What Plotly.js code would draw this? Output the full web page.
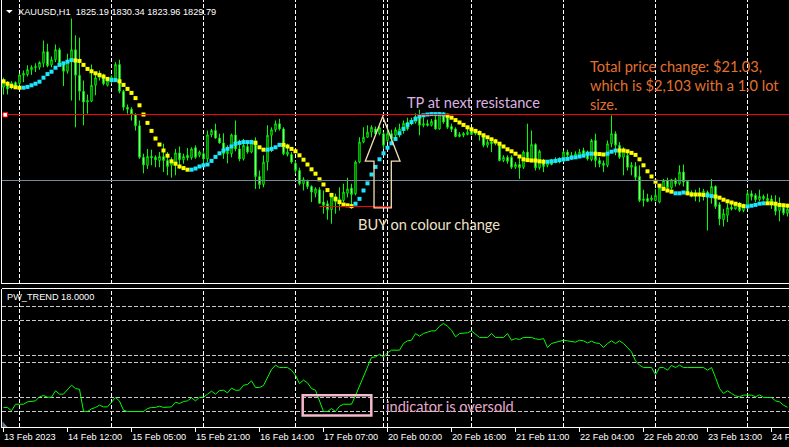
<!DOCTYPE html>
<html><head><meta charset="utf-8">
<script src="https://cdn.plot.ly/plotly-3.0.1.min.js"></script>
<style>html,body{margin:0;padding:0;background:#000;overflow:hidden}#chart{width:789px;height:447px}</style>
</head><body><div id="chart"></div>
<script>
// ---------- DATA (XAUUSD H1) ----------
const openP = [
1854.3,1855.2,1854.3,1855.5,1855.2,1857.3,1857.5,1858.7,1859.2,1859.3,
1860.3,1863.2,1859.9,1861.2,1863.7,1860.2,1858.3,1861.0,1863.7,1857.3,
1853.3,1850.6,1850.8,1854.8,1856.7,1857.1,1854.8,1856.0,1856.4,1860.0,
1853.3,1849.3,1848.8,1847.5,1844.7,1836.8,1834.8,1837.0,1836.8,1836.0,
1837.0,1836.0,1834.8,1835.2,1837.9,1836.2,1837.3,1836.7,1839.2,1837.3,
1837.7,1836.4,1842.4,1843.5,1841.6,1840.4,1837.7,1837.7,1842.4,1838.9,
1836.4,1839.5,1838.1,1841.0,1832.0,1830.0,1835.6,1842.3,1843.7,1845.2,
1843.9,1837.5,1837.5,1835.3,1833.5,1830.2,1830.8,1829.5,1827.8,1828.7,
1825.6,1825.2,1823.7,1827.0,1825.2,1826.0,1827.8,1829.1,1827.7,1835.6,
1840.6,1841.8,1843.1,1843.9,1842.7,1842.7,1841.0,1842.7,1842.3,1843.1,
1843.9,1845.6,1845.2,1845.6,1847.3,1844.8,1845.2,1844.8,1846.2,1843.9,
1847.7,1847.0,1844.5,1843.9,1842.0,1842.3,1842.5,1843.5,1842.7,1842.8,
1842.3,1839.8,1840.6,1840.2,1840.0,1836.0,1836.8,1836.8,1834.3,1835.0,
1834.3,1838.1,1836.0,1840.0,1834.2,1836.0,1834.8,1835.8,1835.6,1835.6,
1835.8,1838.1,1837.3,1836.8,1837.3,1838.5,1838.1,1836.2,1841.0,1836.0,
1835.3,1834.8,1840.2,1842.7,1839.8,1836.8,1837.3,1834.3,1834.5,1832.0,
1826.0,1826.5,1826.2,1826.0,1825.6,1829.2,1831.0,1829.2,1831.2,1830.2,
1833.1,1830.8,1827.7,1827.8,1827.5,1827.3,1828.1,1826.8,1829.5,1825.0,
1821.2,1822.3,1824.3,1823.9,1824.8,1823.5,1824.3,1827.7,1827.3,1826.2,
1827.0,1826.5,1826.4,1825.3,1823.5,1824.3,1822.8];
const highP = [
1856.7,1855.8,1855.8,1855.8,1857.7,1858.5,1859.8,1859.8,1860.3,1860.8,
1866.0,1865.2,1862.0,1865.0,1864.2,1860.6,1862.7,1871.5,1867.3,1866.7,
1856.0,1852.5,1860.0,1857.7,1858.5,1857.7,1856.8,1857.3,1860.6,1861.2,
1853.7,1850.0,1849.3,1847.8,1846.0,1837.7,1838.9,1838.7,1837.3,1838.1,
1840.2,1838.1,1836.8,1838.9,1839.5,1837.7,1839.1,1839.3,1839.8,1838.5,
1838.5,1843.5,1843.9,1845.2,1842.7,1842.8,1839.8,1842.7,1846.0,1841.2,
1841.4,1840.2,1841.2,1841.8,1833.5,1837.3,1844.8,1844.3,1846.0,1846.4,
1844.3,1840.2,1838.1,1836.0,1834.2,1831.8,1831.2,1829.8,1829.3,1829.3,
1828.5,1826.0,1827.3,1827.7,1829.3,1830.2,1831.7,1830.2,1836.0,1841.8,
1844.3,1844.8,1844.8,1844.5,1844.5,1843.1,1843.7,1843.7,1844.3,1845.2,
1846.0,1846.7,1846.7,1847.8,1848.7,1846.8,1846.2,1846.4,1847.7,1848.1,
1848.1,1847.7,1845.2,1844.3,1843.1,1843.1,1844.2,1843.9,1843.9,1843.5,
1842.7,1841.2,1841.4,1841.4,1840.3,1837.3,1837.3,1837.3,1835.6,1836.8,
1838.5,1845.2,1843.5,1840.3,1838.7,1836.4,1836.0,1836.4,1836.8,1836.8,
1838.5,1838.7,1838.1,1838.3,1838.9,1839.2,1838.5,1841.4,1842.7,1836.8,
1836.0,1841.0,1847.3,1843.3,1840.6,1839.3,1838.5,1835.6,1835.6,1834.8,
1828.7,1827.7,1827.3,1828.9,1830.2,1831.4,1831.7,1831.4,1831.7,1834.8,
1835.0,1831.0,1828.5,1828.7,1829.2,1828.9,1828.5,1831.4,1829.8,1825.6,
1823.9,1825.3,1825.3,1825.6,1825.6,1825.2,1828.5,1828.5,1827.8,1828.7,
1827.5,1827.7,1827.3,1827.3,1826.8,1825.3,1825.2];
const lowP = [
1852.5,1852.5,1853.8,1854.3,1854.8,1855.6,1857.0,1857.4,1858.1,1858.7,
1859.3,1859.3,1859.3,1860.6,1859.8,1854.6,1857.7,1851.0,1844.3,1851.0,
1844.8,1847.7,1850.6,1852.3,1856.0,1854.8,1854.5,1855.2,1856.0,1852.8,
1848.5,1847.7,1846.0,1843.5,1836.4,1832.8,1833.9,1834.8,1834.3,1834.3,
1833.1,1832.3,1831.7,1832.3,1833.9,1835.2,1836.0,1836.2,1836.4,1836.8,
1835.2,1835.6,1841.8,1841.4,1840.2,1836.4,1835.3,1836.8,1838.3,1835.8,
1836.0,1837.7,1837.8,1828.9,1828.9,1829.3,1833.5,1838.1,1843.1,1843.5,
1837.3,1837.0,1835.2,1832.7,1829.8,1828.5,1828.9,1825.6,1826.8,1825.2,
1822.7,1821.2,1820.2,1822.7,1823.5,1825.6,1826.8,1823.9,1827.3,1835.3,
1840.3,1841.7,1841.8,1842.3,1842.3,1838.9,1840.6,1840.2,1841.0,1841.8,
1842.7,1843.5,1844.8,1845.2,1842.3,1844.3,1844.5,1844.5,1843.7,1843.7,
1845.2,1843.9,1843.1,1841.8,1841.8,1841.8,1842.3,1842.3,1842.3,1841.0,
1839.3,1839.2,1838.1,1839.8,1835.8,1835.6,1835.2,1833.9,1833.9,1831.4,
1833.9,1836.0,1835.6,1833.5,1833.7,1833.1,1834.3,1834.8,1835.3,1835.3,
1835.6,1836.8,1836.2,1836.7,1837.0,1837.2,1836.0,1835.8,1834.3,1834.3,
1833.1,1834.3,1839.3,1837.3,1836.4,1832.3,1833.5,1832.3,1831.0,1825.6,
1824.5,1825.6,1825.8,1825.8,1825.3,1828.7,1828.7,1828.7,1829.5,1829.8,
1829.5,1827.3,1826.8,1825.8,1825.6,1826.0,1818.5,1825.2,1823.9,1819.8,
1819.5,1820.6,1823.5,1823.7,1823.1,1823.1,1823.9,1826.0,1825.6,1825.8,
1826.0,1825.6,1823.9,1822.3,1820.8,1822.3,1822.0];
const closeP = [
1855.6,1853.9,1855.4,1854.5,1857.4,1857.8,1858.7,1859.3,1859.5,1860.5,
1863.2,1859.7,1861.2,1863.7,1860.2,1858.3,1861.0,1863.7,1857.3,1853.3,
1850.6,1851.0,1854.8,1856.7,1857.3,1855.2,1856.0,1856.8,1860.0,1853.3,
1849.3,1848.8,1847.5,1844.7,1836.8,1834.9,1837.0,1836.7,1836.2,1837.0,
1836.0,1834.5,1835.6,1837.9,1836.2,1837.0,1836.7,1838.9,1836.8,1838.1,
1836.4,1842.4,1843.5,1841.6,1840.4,1837.7,1838.3,1842.4,1838.9,1836.4,
1839.8,1838.1,1841.0,1832.0,1830.0,1835.6,1842.3,1843.7,1845.2,1843.9,
1837.7,1838.1,1835.6,1833.5,1830.2,1831.2,1829.5,1828.1,1828.9,1825.3,
1824.8,1823.7,1827.0,1825.6,1826.4,1828.1,1828.9,1827.5,1835.6,1840.6,
1841.8,1843.1,1844.3,1842.7,1844.2,1839.8,1842.7,1841.4,1843.7,1843.9,
1845.3,1843.9,1846.0,1847.0,1844.8,1845.2,1844.8,1845.8,1843.9,1847.5,
1845.6,1844.3,1843.8,1842.0,1842.5,1842.8,1843.1,1842.5,1843.1,1842.3,
1839.8,1840.6,1840.2,1841.0,1836.0,1836.8,1835.8,1834.3,1835.0,1834.2,
1838.1,1836.4,1840.0,1834.2,1838.3,1834.5,1835.6,1835.0,1836.2,1836.4,
1838.1,1837.3,1836.4,1837.7,1838.1,1837.5,1836.4,1841.0,1836.0,1835.2,
1834.8,1840.2,1842.7,1839.8,1836.8,1838.7,1834.3,1834.8,1831.8,1826.0,
1826.4,1825.8,1826.6,1827.3,1829.2,1831.0,1829.2,1831.2,1830.2,1833.1,
1830.6,1827.7,1828.1,1827.3,1827.8,1828.3,1826.8,1829.5,1824.5,1821.4,
1822.7,1824.2,1823.9,1825.0,1823.5,1824.8,1827.7,1827.0,1826.2,1827.0,
1826.5,1826.0,1825.8,1823.3,1824.8,1822.8,1823.9];
// trend-following moving average (dots) and its direction (1 = rising / cyan, 0 = falling / yellow)
const maValue = [
1855.8,1855.2,1854.6,1854.3,1854.2,1854.2,1854.4,1854.8,1855.2,1855.7,
1856.7,1857.6,1858.2,1859.2,1859.9,1860.3,1860.7,1861.1,1861.0,1860.9,
1859.9,1858.9,1858.3,1857.8,1857.4,1857.0,1856.4,1856.1,1856.1,1855.8,
1854.9,1853.9,1852.9,1851.6,1849.8,1847.5,1845.4,1843.4,1841.5,1840.0,
1838.5,1837.2,1835.8,1835.2,1834.5,1834.1,1833.7,1833.7,1834.0,1834.5,
1834.8,1835.0,1835.9,1836.9,1837.8,1838.5,1838.9,1839.5,1840.2,1840.4,
1840.6,1840.6,1840.6,1840.4,1839.3,1838.7,1838.7,1838.9,1839.3,1839.9,
1839.9,1839.5,1838.9,1838.3,1837.3,1836.2,1835.0,1833.8,1832.7,1831.3,
1830.0,1828.6,1827.4,1826.4,1825.6,1825.0,1824.8,1824.6,1825.2,1826.4,
1828.5,1830.3,1832.5,1834.4,1836.3,1837.8,1839.2,1840.3,1841.4,1842.8,
1843.9,1844.9,1845.6,1846.4,1847.0,1847.3,1847.5,1847.6,1847.6,1847.6,
1847.5,1847.2,1846.7,1846.1,1845.5,1844.9,1844.3,1843.8,1843.4,1842.9,
1842.3,1841.8,1841.3,1840.8,1840.2,1839.5,1838.8,1838.3,1837.7,1837.0,
1836.3,1836.1,1836.0,1836.0,1835.8,1835.7,1835.7,1835.8,1835.9,1836.1,
1836.3,1836.4,1836.7,1836.8,1837.0,1837.2,1837.7,1837.7,1837.7,1837.6,
1837.5,1837.7,1838.2,1838.5,1838.5,1838.5,1838.3,1837.9,1837.4,1836.3,
1834.8,1833.3,1832.0,1830.7,1829.7,1828.9,1828.5,1828.2,1827.8,1827.8,
1828.0,1827.8,1827.5,1827.5,1827.5,1827.4,1827.3,1827.1,1827.0,1826.7,
1826.2,1825.8,1825.5,1825.2,1824.9,1824.6,1824.5,1824.7,1824.9,1825.2,
1825.3,1825.3,1825.3,1825.2,1824.9,1824.8,1824.7];
const maRising = [
0,0,0,0,0,1,1,1,1,1, 1,1,1,1,1,1,1,1,0,0, 0,0,0,0,0,0,0,1,1,0,
0,0,0,0,0,0,0,0,0,0, 0,0,0,0,0,0,0,1,1,1, 1,1,1,1,1,1,1,1,1,1,
1,1,1,0,0,0,1,1,1,1, 0,0,0,0,0,0,0,0,0,0, 0,0,0,0,0,0,0,0,1,1,
1,1,1,1,1,1,1,1,1,1, 1,1,1,1,1,1,1,1,1,1, 1,0,0,0,0,0,0,0,0,0,
0,0,0,0,0,0,0,0,0,0, 0,0,0,0,0,0,1,1,1,1, 1,1,1,1,1,1,1,1,0,0,
0,1,1,1,0,0,0,0,0,0, 0,0,0,0,0,0,0,0,1,1, 1,0,0,0,0,0,1,1,0,0,
0,0,0,0,0,0,1,1,1,1, 1,0,0,0,0,0,0];
// PW_TREND sub-window oscillator
const trendValue = [
17.9,17.9,15.5,20.2,20.2,20.2,21.9,22.1,22.6,25.5,
26.4,25.2,25.2,29.8,27.4,27.4,30.7,33.8,31.4,30.9,
15.2,15.0,16.9,17.9,19.5,18.3,18.3,21.9,25.0,22.4,
15.9,15.0,15.0,15.0,15.0,15.0,17.1,17.9,17.9,18.8,
17.9,17.9,18.3,21.7,20.7,22.1,22.6,24.8,22.6,25.2,
25.2,27.4,29.5,27.4,30.0,30.2,28.3,31.7,30.2,30.2,
33.8,34.3,36.9,32.1,32.1,33.6,39.8,45.0,48.1,46.4,
46.4,46.4,44.5,40.9,35.0,37.4,35.5,31.4,30.2,23.1,
15.0,15.0,17.1,15.0,18.8,20.2,20.2,20.2,26.4,33.1,
39.8,46.4,53.6,54.0,55.9,54.0,56.9,58.8,58.8,58.8,
63.6,65.5,65.9,70.7,68.8,70.7,71.7,72.6,72.6,75.9,
77.9,75.9,73.1,68.3,70.7,70.7,71.2,72.6,70.2,67.9,
67.9,67.9,70.7,67.9,67.9,67.9,70.7,65.9,67.1,66.4,
67.9,67.9,67.9,66.9,66.4,67.1,60.7,63.6,64.5,65.5,
65.9,65.5,64.8,64.5,65.9,65.5,64.0,65.2,64.0,63.6,
60.7,63.6,65.5,63.6,65.5,63.6,60.7,57.6,51.2,48.1,
46.4,46.4,46.4,41.2,46.4,46.4,44.5,47.9,46.4,48.1,
46.4,46.4,46.4,46.4,46.4,46.4,44.5,46.4,39.3,31.4,
27.9,29.8,27.9,26.2,25.5,26.7,26.7,26.7,25.5,26.9,
25.0,25.0,25.0,22.6,21.9,19.5,18.0];
const trendLevels = [15, 25, 50, 55, 80, 90];
const timeLabels = ["13 Feb 2023","14 Feb 12:00","15 Feb 05:00","15 Feb 21:00","16 Feb 14:00","17 Feb 07:00",
  "20 Feb 00:00","20 Feb 16:00","21 Feb 11:00","22 Feb 04:00","22 Feb 20:00","23 Feb 13:00","24 F"];
const labelBars = [0,16,32,48,64,80,96,112,128,144,160,176,192];
const gridBars = [4,27,50,73,95,96,117,140,163,186];
const tpPrice = 1847.5, supportPrice = 1831.0, buyPrice = 1824.5;
const buyFromBar = 79, buyToBar = 97;
const headerText = "XAUUSD,H1\u00a0\u00a01825.19 1830.34 1823.96 1829.79";
const subTitle = "PW_TREND 18.0000";

// ---------- LAYOUT HELPERS ----------
const W = 789, H = 447, ML = 2, MB = 20;
const PH = H - MB, PW = W - ML;
const py = y => (PH - y) / PH;
const pxx = x => (x - ML) / PW;
const bars = openP.map((_, i) => i);

const traces = [
  {type:'candlestick', x: bars, open: openP, high: highP, low: lowP, close: closeP,
   increasing:{line:{color:'#00ff00', width:1}, fillcolor:'#000000'},
   decreasing:{line:{color:'#00ff00', width:1}, fillcolor:'#ffffff'},
   whiskerwidth:0, xaxis:'x', yaxis:'y', hoverinfo:'skip', showlegend:false},
  {type:'scatter', mode:'markers', x: bars, y: maValue, xaxis:'x', yaxis:'y',
   marker:{symbol:'square', size:4, color: maRising.map(r => r ? '#1ee6ff' : '#ffff00'), line:{width:0}},
   hoverinfo:'skip', showlegend:false},
  {type:'scatter', mode:'lines', x: bars, y: trendValue, xaxis:'x', yaxis:'y2',
   line:{color:'#00ff00', width:1}, hoverinfo:'skip', showlegend:false}
];

const shapes = [];
const dash = '4px,2px';
gridBars.forEach(b => {
  shapes.push({type:'line', layer:'below', xref:'x', yref:'y domain', x0:b, x1:b, y0:0, y1:1, line:{color:'#ffffff', width:1, dash}});
  shapes.push({type:'line', layer:'below', xref:'x', yref:'y2 domain', x0:b, x1:b, y0:0, y1:1, line:{color:'#ffffff', width:1, dash}});
});
trendLevels.forEach(v => shapes.push({type:'line', layer:'below', xref:'paper', yref:'y2', x0:0, x1:1, y0:v, y1:v, line:{color:'#c8c8c8', width:1, dash}}));
// panel borders
shapes.push({type:'line', xref:'paper', yref:'paper', x0:0, x1:1, y0:py(283.5), y1:py(283.5), line:{color:'#ffffff', width:1}});
shapes.push({type:'line', xref:'paper', yref:'paper', x0:0, x1:1, y0:py(288.5), y1:py(288.5), line:{color:'#ffffff', width:1}});
// price lines
shapes.push({type:'line', xref:'paper', yref:'y', x0:0, x1:1, y0:supportPrice, y1:supportPrice, line:{color:'#778899', width:1}});
shapes.push({type:'line', xref:'paper', yref:'y', x0:0, x1:1, y0:tpPrice, y1:tpPrice, line:{color:'#ff0000', width:1}});
shapes.push({type:'line', xref:'x', yref:'y', x0:buyFromBar, x1:buyToBar, y0:buyPrice, y1:buyPrice, line:{color:'#ff0000', width:1}});
shapes.push({type:'rect', xref:'paper', yref:'paper', x0:pxx(3), x1:pxx(7.5), y0:py(117), y1:py(112.5), fillcolor:'#ffffff', line:{color:'#ff0000', width:1}});
// hand-drawn up arrow
shapes.push({type:'path', xref:'x', yref:'y', path:'M94.8,1847.0 L90.45,1835.83 L92.63,1835.83 L92.63,1824.18 L96.95,1824.18 L96.95,1835.83 L99.13,1835.83 Z',
  line:{color:'#f2ddb5', width:1.3}});
// oversold box
shapes.push({type:'rect', xref:'x', yref:'y2', x0:74.8, x1:91.95, y0:12.2, y1:26.6, line:{color:'#f4b8cc', width:2.5}});
// header triangle and corner marker
shapes.push({type:'path', xref:'paper', yref:'paper', path:`M${pxx(6)},${py(10)} L${pxx(12.7)},${py(10)} L${pxx(9.35)},${py(13.3)} Z`, fillcolor:'#ffffff', line:{width:0}});
shapes.push({type:'path', xref:'paper', yref:'paper', path:`M${pxx(2.5)},${py(421.5)} L${pxx(2.5)},${py(427)} L${pxx(7.5)},${py(427)} Z`, fillcolor:'#708090', line:{width:0}});

const small = {family:'Liberation Sans, Arial, sans-serif', size:9.2, color:'#ffffff'};
const big = c => ({family:'Lato, sans-serif', size:14.6, color:c});
const annotations = [
  {xref:'paper', yref:'paper', x:pxx(18.3), y:py(11.7), text:headerText, font:small},
  {xref:'paper', yref:'paper', x:pxx(7.3), y:py(296.7), text:subTitle, font:small},
  {xref:'paper', yref:'paper', x:pxx(407.3), y:py(102.6), text:'TP at next resistance', font:big('#dcb2e2')},
  {xref:'paper', yref:'paper', x:pxx(357.7), y:py(225), text:'BUY on colour change', font:big('#eee0c8')},
  {xref:'paper', yref:'paper', x:pxx(590), y:py(85), text:'Total price change: $21.03,<br>which is $2,103 with a 1.0 lot<br>size.', font:big('#e2702e'), align:'left'},
  {xref:'paper', yref:'paper', x:pxx(386), y:py(406), text:'indicator is oversold', font:big('#e4a8cc')}
];
timeLabels.forEach((t, i) => annotations.push({xref:'x', yref:'paper', x:labelBars[i], y:py(437.5), text:t, font:small}));
annotations.forEach(a => Object.assign(a, {showarrow:false, xanchor:'left', yanchor:'middle', borderpad:0, borderwidth:0}));

const layout = {
  width:W, height:H, margin:{l:ML, r:0, t:0, b:MB, pad:0},
  paper_bgcolor:'#000000', plot_bgcolor:'#000000', showlegend:false, hovermode:false,
  boxgap:0.5,
  xaxis:{range:[-0.375, 196.375], anchor:'y2', showgrid:false, zeroline:false, showline:true, linecolor:'#ffffff', linewidth:1,
    ticks:'outside', tickvals:labelBars, ticklen:4, tickwidth:1, tickcolor:'#ffffff', showticklabels:false,
    rangeslider:{visible:false}, fixedrange:true},
  yaxis:{domain:[(PH-284)/PH, 1], range:[1805.125, 1876.125], showgrid:false, zeroline:false, showticklabels:false, ticks:'',
    showline:true, linecolor:'#ffffff', linewidth:1, fixedrange:true},
  yaxis2:{domain:[0, (PH-289)/PH], range:[3.929, 102.5], anchor:'x', showgrid:false, zeroline:false, showticklabels:false, ticks:'',
    showline:true, linecolor:'#ffffff', linewidth:1, fixedrange:true},
  shapes, annotations
};
Plotly.newPlot('chart', traces, layout, {displayModeBar:false, staticPlot:true});
</script></body></html>
